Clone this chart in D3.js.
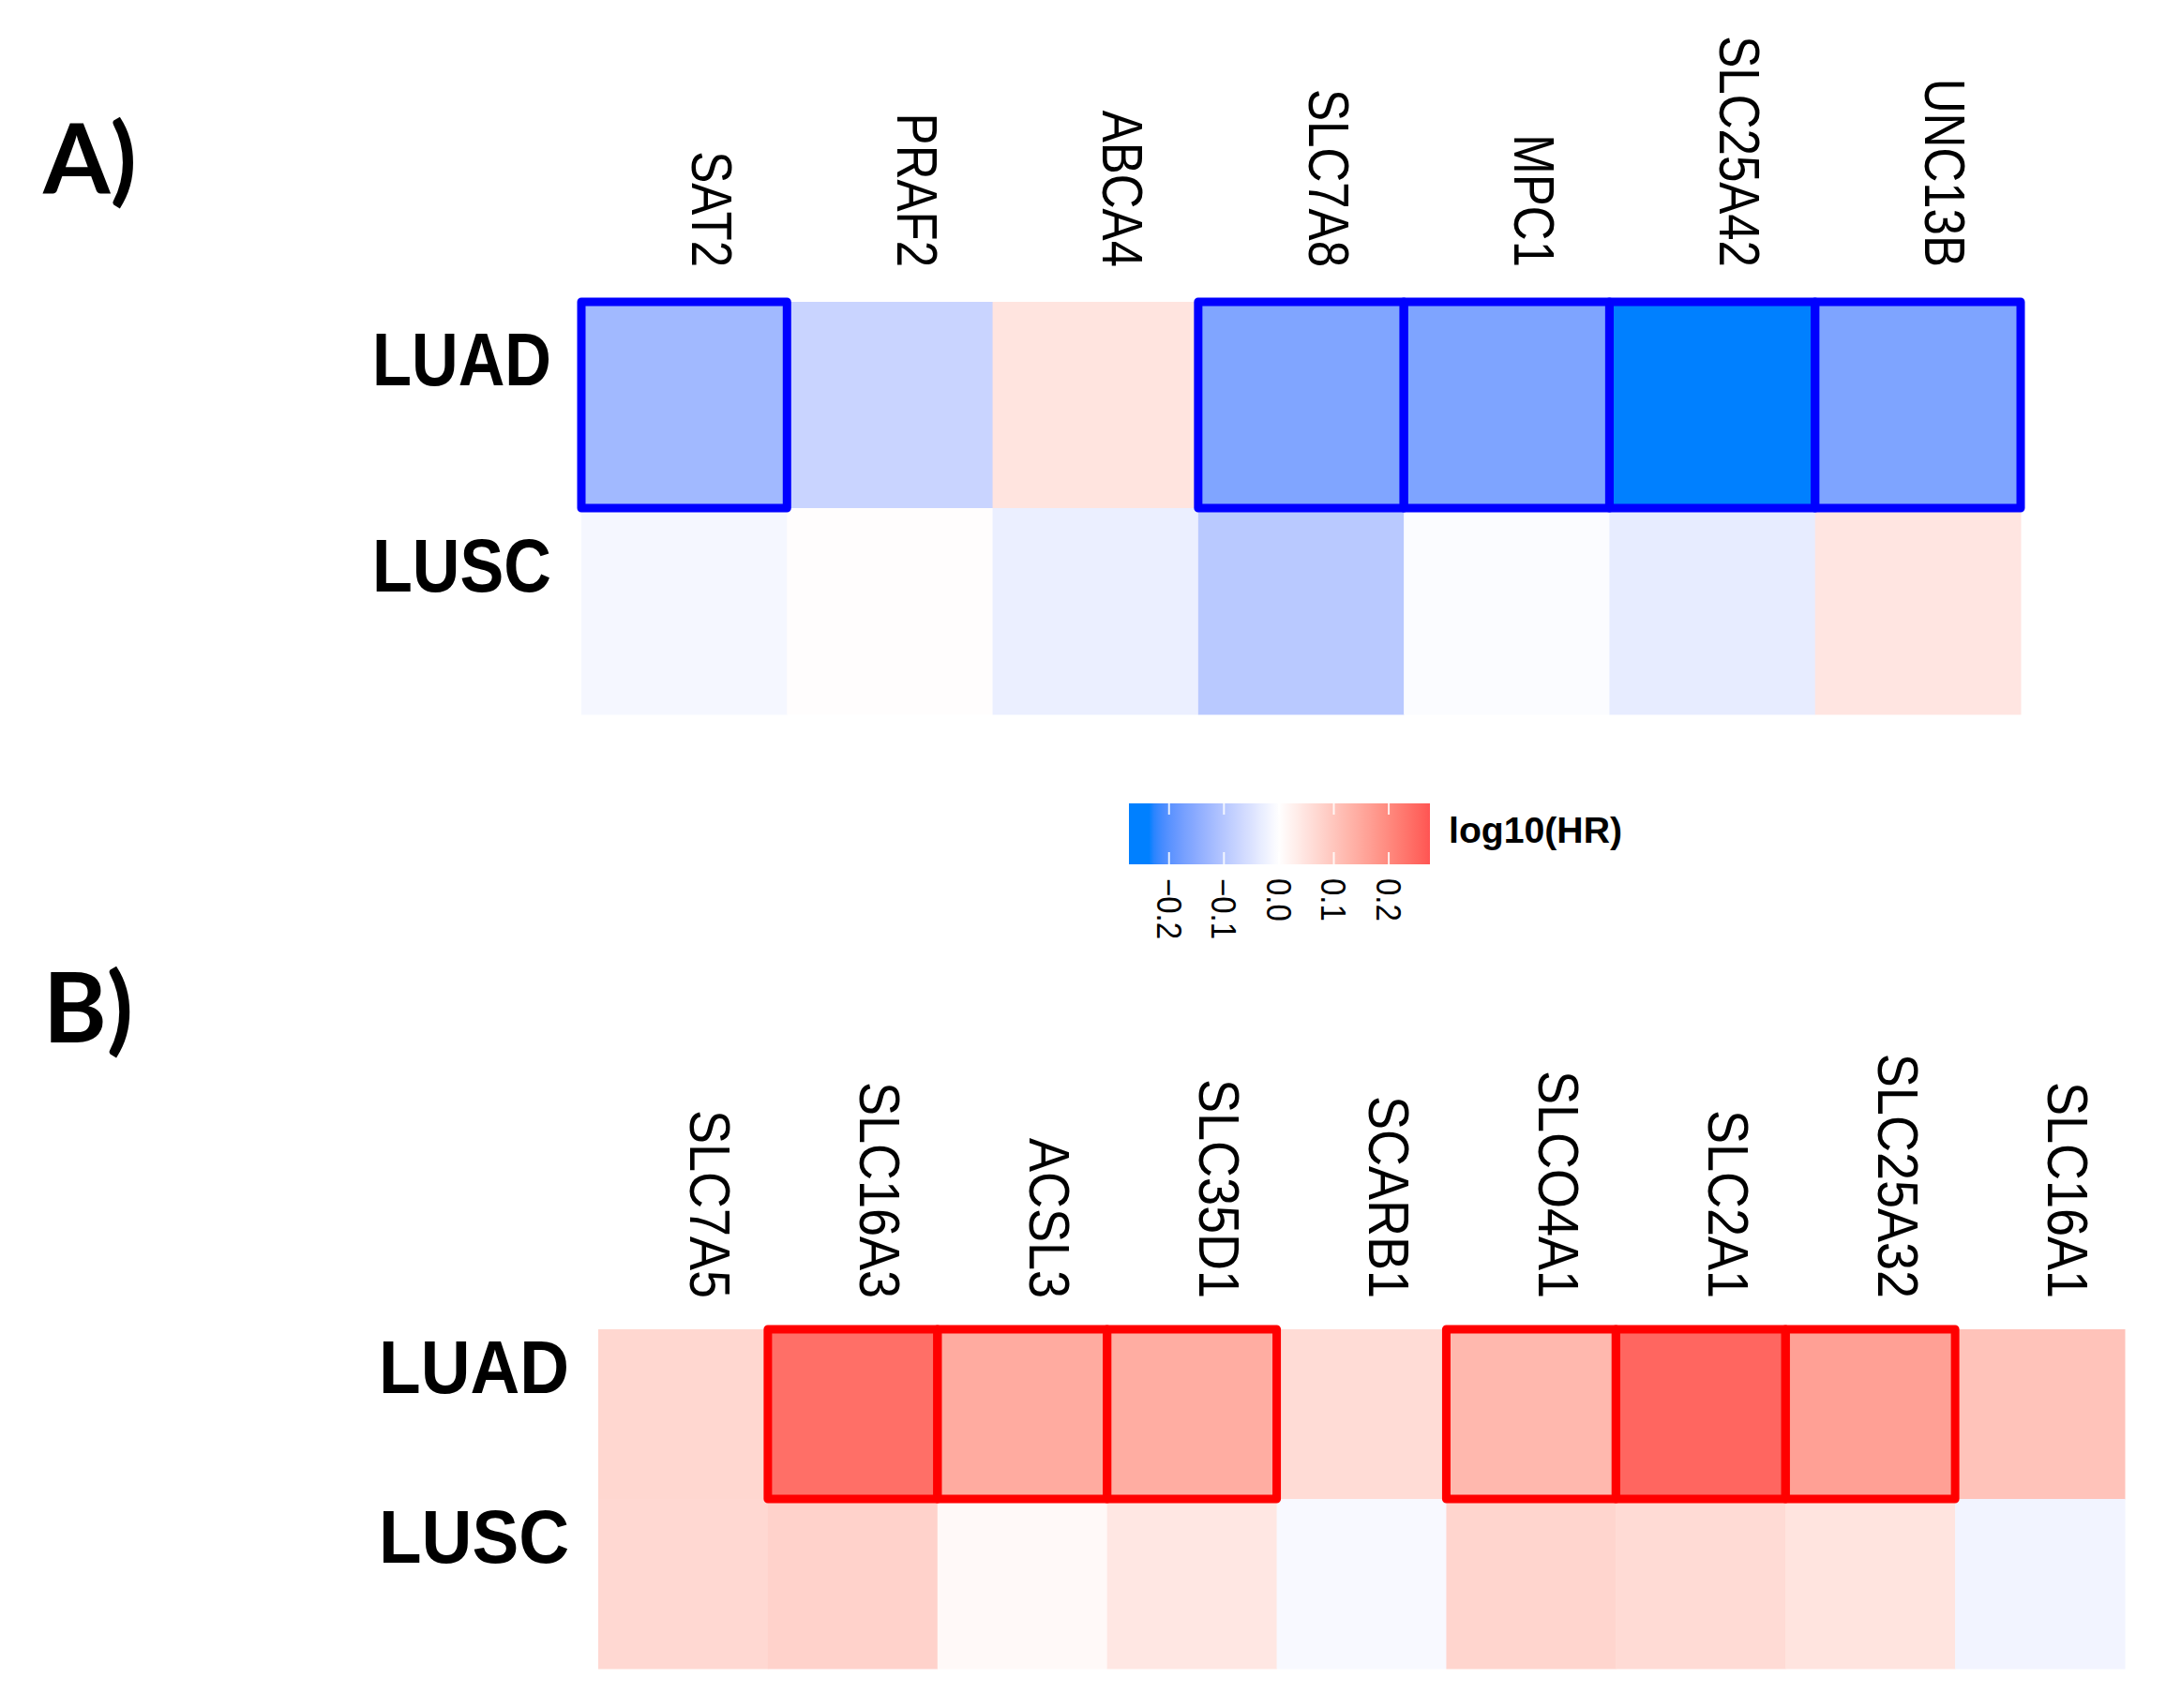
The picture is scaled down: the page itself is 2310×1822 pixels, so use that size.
<!DOCTYPE html>
<html>
<head>
<meta charset="utf-8">
<script src="https://cdn.jsdelivr.net/npm/d3@7"></script>
<style>
  html, body { margin: 0; padding: 0; background: #ffffff; }
  svg { display: block; }
</style>
</head>
<body>
<svg id="chart" width="2310" height="1822"></svg>
<script>
// ---------------- DATA ----------------
const rowsA = ["LUAD", "LUSC"];
const genesA = ["SAT2", "PRAF2", "ABCA4", "SLC7A8", "MPC1", "SLC25A42", "UNC13B"];
const luadA = [-0.125, -0.075, 0.047, -0.163, -0.165, -0.245, -0.165];
const luscA = [-0.014, 0.003, -0.028, -0.095, -0.006, -0.033, 0.045];
const sigA = [true, false, false, true, true, true, true];   // LUAD cells outlined

const rowsB = ["LUAD", "LUSC"];
const genesB = ["SLC7A5", "SLC16A3", "ACSL3", "SLC35D1", "SCARB1", "SLCO4A1", "SLC2A1", "SLC25A32", "SLC16A1"];
const luadB = [0.070, 0.240, 0.145, 0.142, 0.062, 0.123, 0.252, 0.163, 0.105];
const luscB = [0.068, 0.078, 0.010, 0.042, -0.010, 0.073, 0.063, 0.048, -0.019];
const sigB = [false, true, true, true, false, true, true, true, false];

const legendTicks = [-0.2, -0.1, 0.0, 0.1, 0.2];
const legendTickLabels = ["\u22120.2", "\u22120.1", "0.0", "0.1", "0.2"];
const legendTitle = "log10(HR)";
const panelLabels = ["A)", "B)"];

// ---------------- SCALES ----------------
const color = d3.scaleLinear()
  .domain([-0.236, 0, 0.28])
  .range(["#0080FF", "#FFFFFF", "#FF5050"])
  .interpolate(d3.interpolateLab)
  .clamp(true);

const svg = d3.select("#chart");
const FONT = "'Liberation Sans', Arial, sans-serif";

function heatmap(cfg) {
  const x = d3.scaleBand().domain(cfg.genes).range(cfg.xRange).padding(0);
  const y = d3.scaleBand().domain(cfg.rows).range(cfg.yRange).padding(0);
  const g = svg.append("g");
  const cells = [];
  cfg.rows.forEach((r, ri) => {
    const vals = ri === 0 ? cfg.luad : cfg.lusc;
    cfg.genes.forEach((gene, gi) => {
      cells.push({ row: r, gene, value: vals[gi], sig: ri === 0 && cfg.sig[gi] });
    });
  });
  g.selectAll("rect.cell").data(cells).join("rect")
    .attr("class", "cell")
    .attr("x", d => x(d.gene))
    .attr("y", d => y(d.row))
    .attr("width", x.bandwidth() + 0.5)
    .attr("height", y.bandwidth() + 0.5)
    .attr("fill", d => color(d.value));
  g.selectAll("rect.sig").data(cells.filter(d => d.sig)).join("rect")
    .attr("class", "sig")
    .attr("x", d => x(d.gene))
    .attr("y", d => y(d.row))
    .attr("width", x.bandwidth())
    .attr("height", y.bandwidth())
    .attr("fill", "none")
    .attr("stroke", cfg.sigColor)
    .attr("stroke-width", cfg.sigWidth)
    .attr("stroke-linejoin", "round");

  // column labels (rotated, reading top to bottom)
  g.selectAll("text.col").data(cfg.genes).join("text")
    .attr("class", "col")
    .attr("transform", d => `translate(${x(d) + x.bandwidth() / 2 + 8},${cfg.colLabelEnd}) rotate(90) scale(1,${cfg.colStretch})`)
    .attr("text-anchor", "end")
    .attr("font-family", FONT)
    .attr("font-size", cfg.colFont)
    .attr("fill", "#000")
    .text(d => d);

  // row labels
  g.selectAll("text.row").data(cfg.rows).join("text")
    .attr("class", "row")
    .attr("x", cfg.rowLabelX)
    .attr("y", d => y(d) + cfg.rowBaseFrac * y.bandwidth())
    .attr("text-anchor", "end")
    .attr("font-family", FONT)
    .attr("font-weight", "bold")
    .attr("font-size", 79)
    .attr("textLength", cfg.rowLabelLen)
    .attr("lengthAdjust", "spacingAndGlyphs")
    .attr("fill", "#000")
    .text(d => d);
}

heatmap({
  genes: genesA, rows: rowsA, luad: luadA, lusc: luscA, sig: sigA,
  xRange: [620, 2155], yRange: [322, 762],
  sigColor: "#0000FF", sigWidth: 9,
  colLabelEnd: 285, colFont: 51, colStretch: 1.2,
  rowLabelX: 588, rowBaseFrac: 0.405, rowLabelLen: 191
});

heatmap({
  genes: genesB, rows: rowsB, luad: luadB, lusc: luscB, sig: sigB,
  xRange: [638, 2266], yRange: [1418, 1780],
  sigColor: "#FF0000", sigWidth: 9,
  colLabelEnd: 1385, colFont: 54, colStretch: 1.14,
  rowLabelX: 607, rowBaseFrac: 0.374, rowLabelLen: 203
});

// ---------------- LEGEND ----------------
const lx = d3.scaleLinear().domain([-0.273, 0.275]).range([1204, 1525]);
const legTop = 857, legBot = 922;
const defs = svg.append("defs");
const grad = defs.append("linearGradient").attr("id", "legGrad")
  .attr("x1", "0%").attr("x2", "100%").attr("y1", "0%").attr("y2", "0%");
const nStops = 60;
d3.range(nStops + 1).forEach(i => {
  const v = lx.domain()[0] + (lx.domain()[1] - lx.domain()[0]) * i / nStops;
  grad.append("stop").attr("offset", (100 * i / nStops) + "%").attr("stop-color", color(v));
});
const leg = svg.append("g");
leg.append("rect")
  .attr("x", lx.range()[0]).attr("y", legTop)
  .attr("width", lx.range()[1] - lx.range()[0]).attr("height", legBot - legTop)
  .attr("fill", "url(#legGrad)");
leg.selectAll("line.tt").data(legendTicks).join("line")
  .attr("class", "tt")
  .attr("x1", d => lx(d)).attr("x2", d => lx(d))
  .attr("y1", legTop).attr("y2", legTop + 12)
  .attr("stroke", "#fff").attr("stroke-opacity", 0.85).attr("stroke-width", 2);
leg.selectAll("line.tb").data(legendTicks).join("line")
  .attr("class", "tb")
  .attr("x1", d => lx(d)).attr("x2", d => lx(d))
  .attr("y1", legBot - 13).attr("y2", legBot)
  .attr("stroke", "#fff").attr("stroke-opacity", 0.85).attr("stroke-width", 2);
leg.selectAll("text.tl").data(legendTicks).join("text")
  .attr("class", "tl")
  .attr("transform", d => `translate(${lx(d) - 13},${937}) rotate(90) scale(1,1.1)`)
  .attr("text-anchor", "start")
  .attr("font-family", FONT)
  .attr("font-size", 33)
  .attr("fill", "#000")
  .text((d, i) => legendTickLabels[i]);
leg.append("text")
  .attr("x", 1545).attr("y", 899)
  .attr("font-family", FONT)
  .attr("font-weight", "bold")
  .attr("font-size", 39)
  .attr("textLength", 185)
  .attr("lengthAdjust", "spacingAndGlyphs")
  .attr("fill", "#000")
  .text(legendTitle);

// ---------------- PANEL LABELS ----------------
svg.selectAll("text.panel").data(panelLabels).join("text")
  .attr("class", "panel")
  .attr("x", 46)
  .attr("y", (d, i) => [206, 1112][i])
  .attr("font-family", "Lato, 'Open Sans', sans-serif")
  .attr("font-weight", "bold")
  .attr("font-size", 103)
  .attr("fill", "#000")
  .text(d => d);
</script>
</body>
</html>
